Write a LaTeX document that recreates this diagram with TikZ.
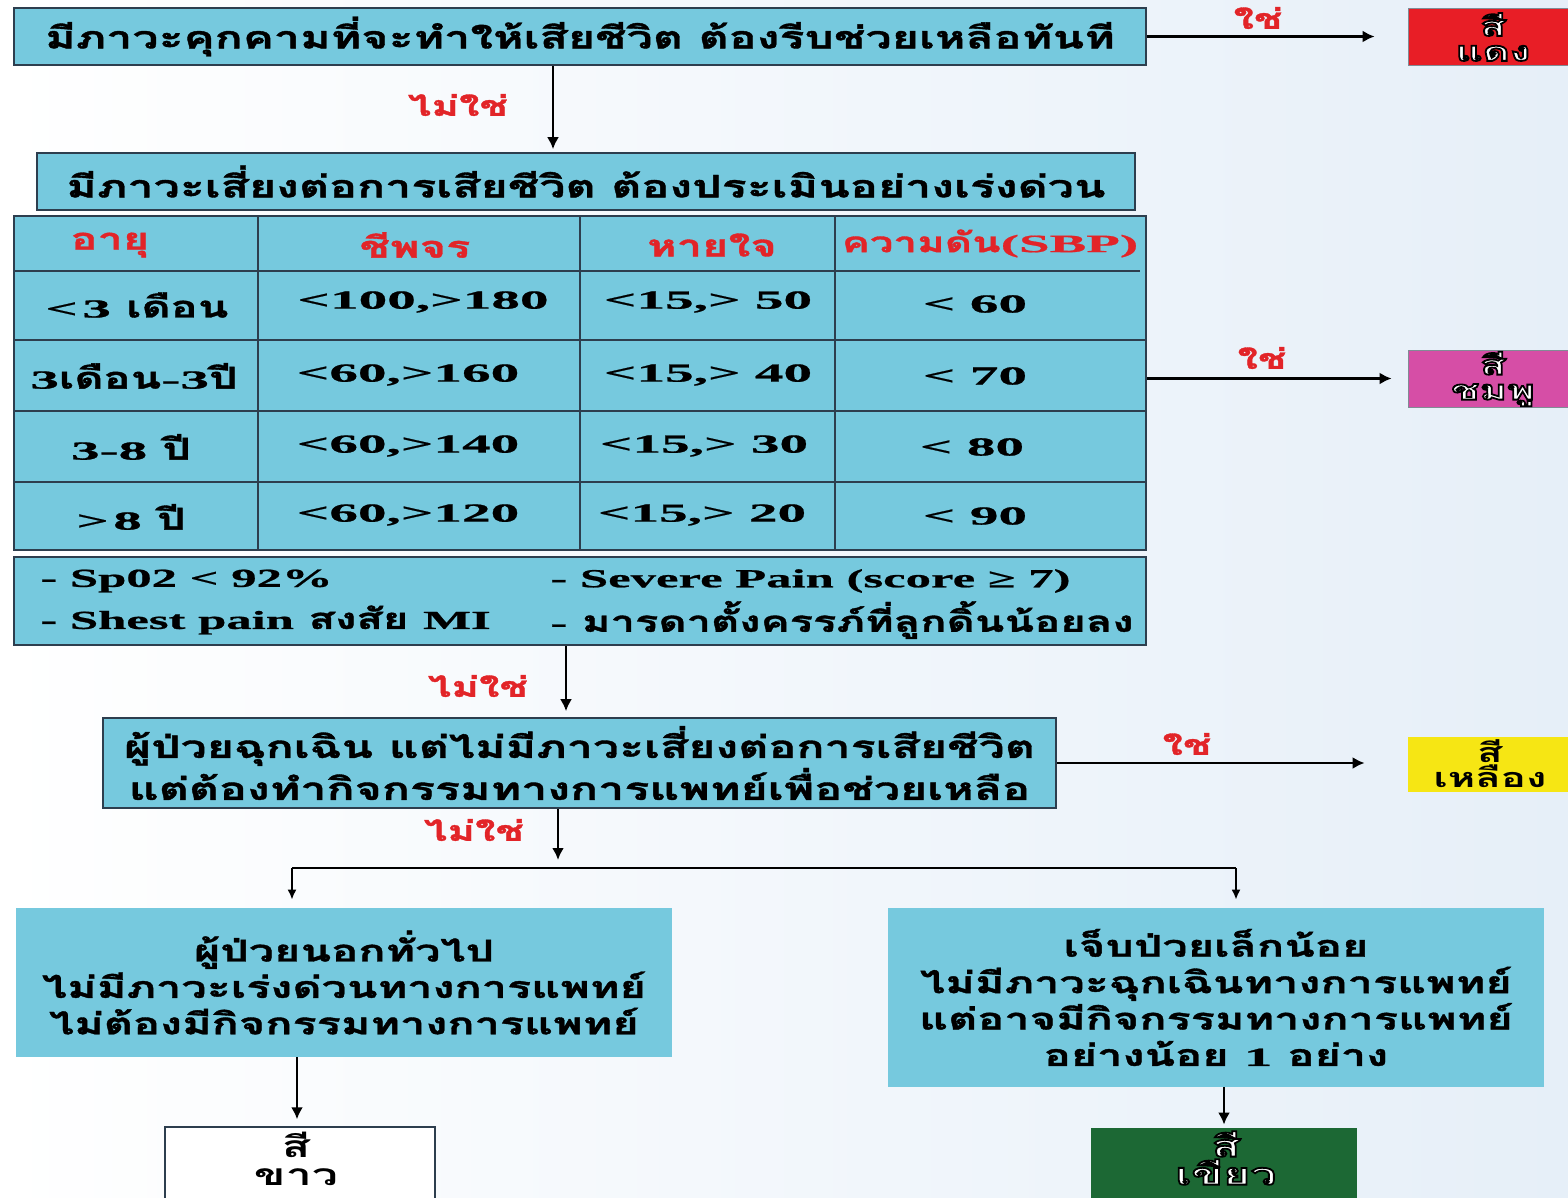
\documentclass[tikz,border=0pt]{standalone}
\usepackage{fontspec}
\newfontfamily\thai[Script=Thai, FakeStretch=1.5, BoldFeatures={FakeBold=1.2}]{Loma}
\newfontfamily\thaitag[Script=Thai, FakeStretch=1.55]{Loma}
\newfontfamily\lat[FakeStretch=2.2, BoldFeatures={FakeBold=0.8}]{Liberation Serif}
\newfontfamily\latb[FakeStretch=1.95, BoldFeatures={FakeBold=0.8}]{Liberation Serif}
\usetikzlibrary{arrows.meta}
\definecolor{boxc}{RGB}{118,201,222}
\definecolor{edgec}{RGB}{45,62,78}
\definecolor{lblred}{RGB}{226,36,40}
\definecolor{redc}{RGB}{232,30,38}
\definecolor{pinkc}{RGB}{214,78,166}
\definecolor{yelc}{RGB}{246,230,20}
\definecolor{greenc}{RGB}{28,104,52}
\definecolor{bgblue}{RGB}{230,239,248}
\newcommand\outl[1]{\special{pdf:literal direct 0 0 0 RG 0.9 w 2 Tr}#1\special{pdf:literal direct 0 Tr}}
\tikzset{
 box/.style={draw=edgec, line width=0.8pt, fill=boxc, inner sep=0pt, align=center, font=\thai\bfseries\fontsize{15.5}{17.5}\selectfont},
 softbox/.style={fill=boxc, inner sep=0pt, align=center, font=\thai\bfseries\fontsize{15}{18.2}\selectfont},
 tag/.style={draw=edgec!60, line width=0.4pt, inner sep=0pt, minimum width=85pt},
 tagtext/.style={inner sep=0pt, align=center, font=\thaitag\bfseries\fontsize{13.5}{12.5}\selectfont},
 cell/.style={inner sep=0pt, font=\thai\bfseries\fontsize{15}{17}\selectfont},
 num/.style={inner sep=0pt, font=\lat\bfseries\fontsize{13}{15}\selectfont},
 crit/.style={inner sep=0pt, anchor=west, font=\thai\bfseries\fontsize{14.5}{17}\selectfont},
 lbl/.style={inner sep=0pt, text=lblred, font=\thai\bfseries\fontsize{14}{17}\selectfont},
 arr/.style={line width=1.3pt, -{Latex[length=6pt,width=6pt]}},
 arrthin/.style={line width=0.9pt, -{Latex[length=5pt,width=4.5pt]}},
 tline/.style={draw=edgec, line width=1.4pt},
}
\newcommand\lt[1]{{\latb\bfseries\fontsize{13}{15}\selectfont #1}}
\begin{document}
\begin{tikzpicture}[x=0.5pt,y=-0.5pt]
\useasboundingbox (0,0) rectangle (1568,1198);
\shade[left color=white, right color=bgblue] (0,0) rectangle (1568,1198);

% main boxes
\node[box, minimum width=566pt, minimum height=28.5pt] (q1) at (580,36.5) {มีภาวะคุกคามที่จะทำให้เสียชีวิต ต้องรีบช่วยเหลือทันที};
\node[box, minimum width=549pt, minimum height=28.5pt] (q2) at (586,181.5) {มีภาวะเสี่ยงต่อการเสียชีวิต ต้องประเมินอย่างเร่งด่วน};

% table
\node[draw=edgec, line width=1.4pt, fill=boxc, minimum width=566pt, minimum height=167pt, inner sep=0pt] (tab) at (580,383) {};
\draw[tline] (258,216) -- (258,550);
\draw[tline] (580,216) -- (580,550);
\draw[tline] (835,216) -- (835,550);
\draw[tline] (14,271) -- (1140,271);
\draw[tline] (14,340) -- (1146,340);
\draw[tline] (14,411) -- (1146,411);
\draw[tline] (14,482) -- (1146,482);

\node[cell, text=lblred] (h1) at (110,245) {อายุ};
\node[cell, text=lblred] (h2) at (415,245) {ชีพจร};
\node[cell, text=lblred] (h3) at (712,245) {หายใจ};
\node[cell, text=lblred, font=\thai\bfseries\fontsize{14}{17}\selectfont] (h4) at (990,243.5) {ความดัน{\lat\fontsize{12.5}{15}\selectfont (SBP)}};

\node[cell] (a1) at (137,305) {{\lat\fontsize{13}{15}\selectfont <\,3} เดือน};
\node[cell] (a2) at (134,376) {{\lat\fontsize{13}{15}\selectfont 3}เดือน{\lat\fontsize{13}{15}\selectfont -3}ปี};
\node[cell] (a3) at (131,447) {{\lat\fontsize{13}{15}\selectfont 3-8} ปี};
\node[cell] (a4) at (131,517) {{\lat\fontsize{13}{15}\selectfont >\,8} ปี};

\node[num] (b1) at (423,302) {<100,>180};
\node[num] (b2) at (408,375) {<60,>160};
\node[num] (b3) at (408,446) {<60,>140};
\node[num] (b4) at (408,515) {<60,>120};

\node[num] (c1) at (708,302) {<15,> 50};
\node[num] (c2) at (708,375) {<15,> 40};
\node[num] (c3) at (704,446) {<15,> 30};
\node[num] (c4) at (702,515) {<15,> 20};

\node[num] (d1) at (975,304) {< 60};
\node[num] (d2) at (975,376) {< 70};
\node[num] (d3) at (972,447) {< 80};
\node[num] (d4) at (975,516) {< 90};

% criteria box
\node[box, minimum width=566pt, minimum height=44pt] (q3) at (580,601) {};
\node[crit] (k1) at (40,581) {\lt{- Sp02 < 92\%}};
\node[crit] (k2) at (550,581) {\lt{- Severe Pain (score ≥ 7)}};
\node[crit] (k3) at (40,620) {\lt{- Shest pain} สงสัย \lt{MI}};
\node[crit] (k4) at (550,620) {\lt{-} มารดาตั้งครรภ์ที่ลูกดิ้นน้อยลง};

\node[box, minimum width=476.5pt, minimum height=45pt] (q4) at (579.5,763) {ผู้ป่วยฉุกเฉิน แต่ไม่มีภาวะเสี่ยงต่อการเสียชีวิต\\แต่ต้องทำกิจกรรมทางการแพทย์เพื่อช่วยเหลือ};

\node[softbox, minimum width=328pt, minimum height=74.5pt] (q5) at (344,982.5) {ผู้ป่วยนอกทั่วไป\\ไม่มีภาวะเร่งด่วนทางการแพทย์\\ไม่ต้องมีกิจกรรมทางการแพทย์};
\node[softbox, minimum width=328pt, minimum height=89.5pt] (q6) at (1216,997.5) {เจ็บป่วยเล็กน้อย\\ไม่มีภาวะฉุกเฉินทางการแพทย์\\แต่อาจมีกิจกรรมทางการแพทย์\\อย่างน้อย {\lat\fontsize{13}{15}\selectfont 1} อย่าง};

% colour tags
\node[tag, fill=redc, minimum height=28.5pt] (red) at (1493,36.5) {};
\node[tagtext, text=white] (redt) at (1493,37) {\outl{สี}\\\outl{แดง}};
\node[tag, fill=pinkc, minimum height=28.5pt] (pink) at (1493,378.5) {};
\node[tagtext, text=white] (pinkt) at (1493,379) {\outl{สี}\\\outl{ชมพู}};
\node[tag, fill=yelc, draw=none, minimum height=27.5pt] (yellow) at (1493,764.5) {};
\node[tagtext] (yellowt) at (1490,764) {สี\\เหลือง};
\node[tag, fill=white, draw=edgec, line width=0.7pt, minimum width=135pt, minimum height=36.5pt] (white) at (300,1163.5) {};
\node[tagtext, font=\thaitag\bfseries\fontsize{15}{14}\selectfont] (whitet) at (296,1159) {สี\\ขาว};
\node[tag, fill=greenc, draw=none, minimum width=133pt, minimum height=36pt] (green) at (1224,1164) {};
\node[tagtext, text=white, font=\thaitag\bfseries\fontsize{15}{14}\selectfont] (greent) at (1226,1158) {\outl{สี}\\\outl{เขียว}};

% connectors
\coordinate (x553) at (553,0);
\coordinate (x566) at (566,0);
\coordinate (splitin) at (558,860);
\coordinate (bl) at (292,868);
\coordinate (br) at (1236,868);
\coordinate (x297) at (297,0);
\coordinate (x1224) at (1224,0);

\draw[arr, shorten >=16.5pt] (q1.east) -- (q1.east -| red.west);
\draw[arr, shorten >=1.5pt] (q1.south -| x553) -- (q2.north -| x553);
\draw[arr, shorten >=8pt] (tab.east |- pink.west) -- (pink.west);
\draw[arr, shorten >=3pt] (q3.south -| x566) -- (q4.north -| x566);
\draw[arr, shorten >=21.5pt] (q4.east) -- (q4.east -| yellow.west);
\draw[arr] (q4.south -| splitin) -- (splitin);
\draw[line width=0.9pt] (bl) -- (br);
\draw[arrthin, shorten >=4pt] (bl) -- (q5.north -| bl);
\draw[arrthin, shorten >=4pt] (br) -- (q6.north -| br);
\draw[arr, shorten >=3.5pt] (q5.south -| x297) -- (white.north -| x297);
\draw[arr, shorten >=1.5pt] (q6.south -| x1224) -- (green.north -| x1224);

% labels
\node[lbl] (y1) at (1258,18) {ใช่};
\node[lbl] (y2) at (1262,358) {ใช่};
\node[lbl] (y3) at (1187,744) {ใช่};
\node[lbl] (n1) at (458,105) {ไม่ใช่};
\node[lbl] (n2) at (478,686) {ไม่ใช่};
\node[lbl] (n3) at (474,830) {ไม่ใช่};
\end{tikzpicture}
\end{document}
